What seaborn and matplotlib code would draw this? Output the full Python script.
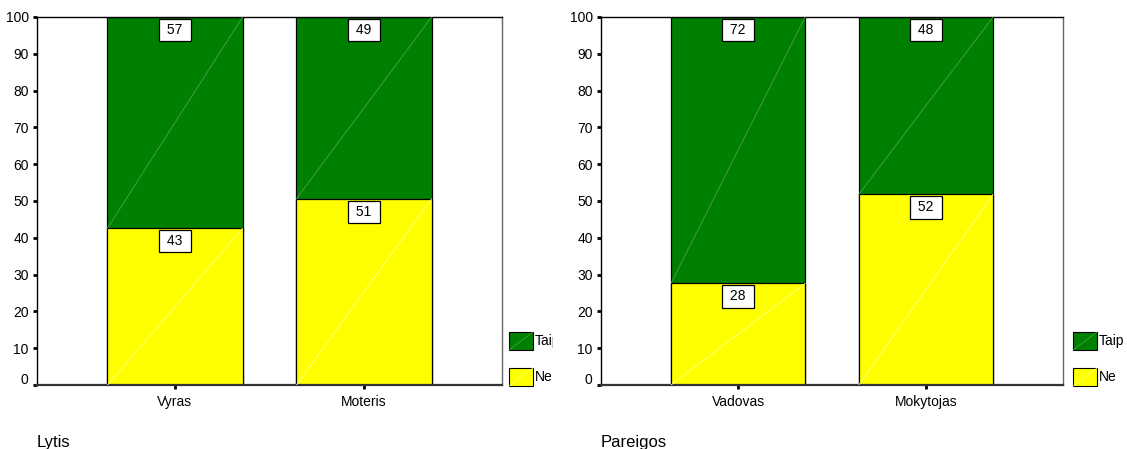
import matplotlib
matplotlib.use("Agg")
import matplotlib.pyplot as plt
import matplotlib.transforms as mtransforms
import seaborn as sns
import pandas as pd
from matplotlib.patches import Rectangle

sns.set_style("white")
plt.rcParams['font.family'] = ['Liberation Sans', 'DejaVu Sans']
plt.rcParams['text.color'] = 'black'
plt.rcParams['xtick.color'] = 'black'
plt.rcParams['ytick.color'] = 'black'

# ---- data ----
lytis_cats = ["Vyras", "Moteris"]
lytis_ne = [42.6, 50.6]
lytis_taip = [57.4, 49.4]

pareigos_cats = ["Vadovas", "Mokytojas"]
pareigos_ne = [27.6, 51.8]
pareigos_taip = [72.4, 48.2]

legend_labels = ["Taip", "Ne"]
yticks = [0, 10, 20, 30, 40, 50, 60, 70, 80, 90, 100]
titles = ["Lytis", "Pareigos"]

GREEN = "#008000"
YELLOW = "#ffff00"

W, H = 1127, 449
fig = plt.figure(figsize=(W / 100, H / 100), dpi=100)


def px_rect(x0, y0, x1, y1):
    return [x0 / W, 1 - y1 / H, (x1 - x0) / W, (y1 - y0) / H]


def draw_panel(rect, cats, ne, taip, title, leg_rect):
    ax = fig.add_axes(px_rect(*rect))
    total = [a + b for a, b in zip(ne, taip)]
    df = pd.DataFrame({"cat": cats, "ne": ne, "taip": taip, "total": total})
    sns.barplot(data=df, x="cat", y="total", color=GREEN, saturation=1,
                width=0.715, edgecolor="black", linewidth=0.9, ax=ax)
    sns.barplot(data=df, x="cat", y="ne", color=YELLOW, saturation=1,
                width=0.715, edgecolor="black", linewidth=0.9, ax=ax)
    half = 0.715 / 2
    for i, (n, t) in enumerate(zip(ne, taip)):
        # diagonal highlight lines through each segment
        ax.plot([i - half, i + half], [0, n], color="#ffff90", lw=0.6, zorder=3)
        ax.plot([i - half, i + half], [n, n + t], color="#4fa04f", lw=0.6, zorder=3)
        for val, top in ((n, n), (t, n + t)):
            ax.annotate(f" {val:.0f} ", xy=(i, top), xytext=(0, -13),
                        textcoords="offset pixels", ha="center", va="center",
                        fontsize=10, zorder=5, color="black",
                        bbox=dict(boxstyle="square,pad=0.3", fc="white",
                                  ec="black", lw=0.9))
    ax.set_xlim(-0.73, 1.73)
    ax.set_ylim(0, 100)
    ax.set_yticks(yticks)
    ax.set_xlabel("")
    ax.set_ylabel("")
    ax.tick_params(axis="both", direction="out", length=3, width=2,
                   color="black", labelcolor="black", labelsize=10,
                   left=True, bottom=True)
    ax.tick_params(axis="x", pad=4)
    ax.tick_params(axis="y", pad=3)
    # the "0" label sits slightly above the baseline
    lbl0 = ax.get_yticklabels()[0]
    lbl0.set_transform(lbl0.get_transform() +
                       mtransforms.ScaledTranslation(0, 6 / 100, fig.dpi_scale_trans))
    for s in ("left", "top"):
        ax.spines[s].set_color("black")
        ax.spines[s].set_linewidth(1.0)
    ax.spines["bottom"].set_color("#333333")
    ax.spines["bottom"].set_linewidth(1.6)
    ax.spines["right"].set_color("#666666")
    ax.spines["right"].set_linewidth(1.0)

    fig.text(rect[0] / W, 1 - 447 / H, title, fontsize=12, ha="left",
             va="baseline", color="black")

    # legend drawn in a small clipping axes
    lx0, ly0, lx1, ly1 = leg_rect
    lax = fig.add_axes(px_rect(lx0, ly0, lx1, ly1))
    lax.set_xlim(lx0, lx1)
    lax.set_ylim(ly1, ly0)
    lax.axis("off")
    for lab, col, yb in zip(legend_labels, [GREEN, YELLOW], [332, 368]):
        bx = lx0 + 4
        lax.add_patch(Rectangle((bx, yb), 24, 18, fc=col, ec="black", lw=0.8,
                                clip_on=True))
        lax.plot([bx, bx + 24], [yb + 18, yb],
                 color="#4fa04f" if col == GREEN else "#ffff90", lw=0.5)
        lax.text(bx + 26, yb + 9, lab, fontsize=10, ha="left", va="center",
                 clip_on=True, color="black")
    return ax


draw_panel((37, 17, 502, 385), lytis_cats, lytis_ne, lytis_taip, titles[0],
           (505, 325, 553, 395))
draw_panel((601, 17, 1063, 385), pareigos_cats, pareigos_ne, pareigos_taip,
           titles[1], (1069, 325, 1127, 395))

fig.savefig("out.png", dpi=100)
